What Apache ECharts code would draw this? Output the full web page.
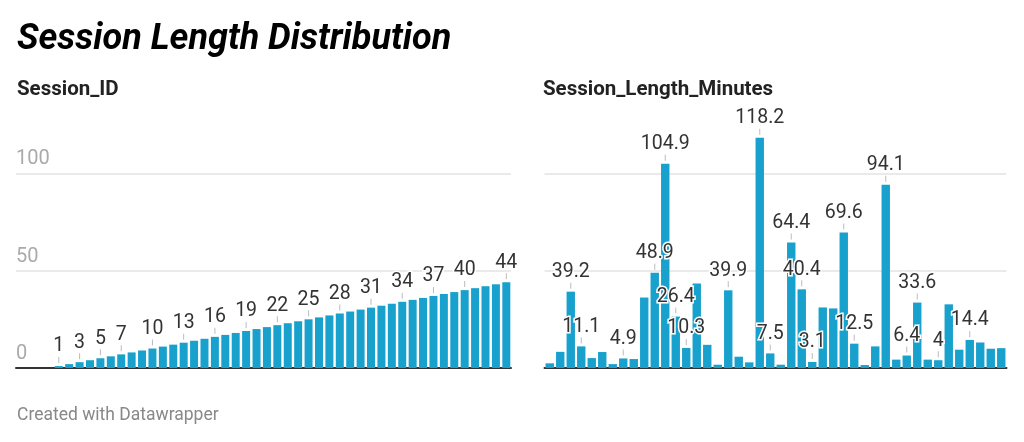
<!DOCTYPE html>
<html>
<head>
<meta charset="utf-8">
<script src="https://cdn.jsdelivr.net/npm/echarts@6/dist/echarts.min.js"></script>
<style>
  html, body { margin: 0; padding: 0; background: #fff; }
  #chart { width: 1024px; height: 442px; }
</style>
</head>
<body>
<div id="chart"></div>
<script>
// session ids (left panel) and session length in minutes (right panel)
var sessionIds = [1, 2, 3, 4, 5, 6, 7, 8, 9, 10, 11, 12, 13, 14, 15, 16, 17, 18, 19, 20, 21, 22,
  23, 24, 25, 26, 27, 28, 29, 30, 31, 32, 33, 34, 35, 36, 37, 38, 39, 40, 41, 42, 43, 44];
var sessionLengths = [2.4, 8.3, 39.2, 11.1, 5.1, 8.2, 2.0, 4.9, 4.6, 36.2, 48.9, 104.9, 26.4, 10.3,
  43.4, 11.9, 1.7, 39.9, 5.8, 2.9, 118.2, 7.5, 1.7, 64.4, 40.4, 3.1, 31.1, 30.6, 69.6, 12.5,
  1.5, 11.1, 94.1, 4.3, 6.4, 33.6, 4.3, 4, 32.7, 9.4, 14.4, 13.1, 9.9, 10.2];
// which sessions carry a value label
var labeledIds = [1, 3, 5, 7, 10, 13, 16, 19, 22, 25, 28, 31, 34, 37, 40, 44];
var labeledLengths = [3, 4, 8, 11, 12, 13, 14, 18, 21, 22, 24, 25, 26, 29, 30, 33, 35, 36, 38, 41];
var yTicks = [0, 50, 100];

var FONT = 'Roboto, "Noto Sans", sans-serif';
var BLUE = '#18a1cd';

var labelStyle = {
  position: 'top',
  distance: 3,
  formatter: function (p) {
    var v = Array.isArray(p.value) ? p.value[1] : p.value;
    return '{v|' + v + '}\n{t|}';
  },
  rich: {
    v: { fontFamily: FONT, fontSize: 19.5, color: '#333', lineHeight: 21,
         textBorderColor: '#fff', textBorderWidth: 3 },
    t: { width: 1, height: 6, lineHeight: 6, backgroundColor: '#bbb' }
  }
};

var leftData = sessionIds.map(function (id) {
  return { value: [id, id], label: { show: labeledIds.indexOf(id) > -1 } };
});
var rightData = sessionLengths.map(function (v, i) {
  return { value: v, label: { show: labeledLengths.indexOf(i + 1) > -1 } };
});

function yAxis(gridIndex, showLabels) {
  return {
    type: 'value',
    gridIndex: gridIndex,
    min: 0,
    max: yTicks[yTicks.length - 1],
    interval: 50,
    axisLine: { show: false },
    axisTick: { show: false },
    splitLine: { show: true, lineStyle: { color: '#e3e3e3', width: 1.5 } },
    axisLabel: {
      show: showLabels,
      inside: true,
      margin: 0,
      align: 'left',
      verticalAlign: 'bottom',
      padding: [0, 0, 4, 0],
      fontFamily: FONT,
      fontSize: 20,
      color: '#aaa'
    }
  };
}

var chart = echarts.init(document.getElementById('chart'));
chart.setOption({
  animation: false,
  textStyle: { fontFamily: FONT },
  title: [
    { text: 'Session Length Distribution', left: 12, top: 17,
      textStyle: { fontSize: 36, fontWeight: 'bold', fontStyle: 'italic', color: '#000' } },
    { text: 'Session_ID', left: 12, top: 74,
      textStyle: { fontSize: 20.5, fontWeight: 'bold', color: '#222' } },
    { text: 'Session_Length_Minutes', left: 538, top: 74,
      textStyle: { fontSize: 20.5, fontWeight: 'bold', color: '#222' } },
    { text: 'Created with Datawrapper', left: 12, top: 402,
      textStyle: { fontSize: 17.5, fontWeight: 'normal', color: '#888' } }
  ],
  grid: [
    { left: 16, width: 495, top: 173.3, bottom: 74 },
    { left: 544.5, width: 462, top: 173.3, bottom: 74 }
  ],
  xAxis: [
    { type: 'value', gridIndex: 0, min: -3.11, max: 44.45,
      axisLine: { show: true, onZero: true, lineStyle: { color: '#333', width: 2 } },
      axisTick: { show: false }, axisLabel: { show: false }, splitLine: { show: false } },
    { type: 'category', gridIndex: 1, data: sessionIds,
      axisLine: { show: true, lineStyle: { color: '#333', width: 2 } },
      axisTick: { show: false }, axisLabel: { show: false } }
  ],
  yAxis: [yAxis(0, true), yAxis(1, false)],
  series: [
    { type: 'bar', name: 'Session_ID', xAxisIndex: 0, yAxisIndex: 0,
      barWidth: 8, clip: false, data: leftData,
      itemStyle: { color: BLUE }, label: labelStyle },
    { type: 'bar', name: 'Session_Length_Minutes', xAxisIndex: 1, yAxisIndex: 1,
      barCategoryGap: '20%', clip: false, data: rightData,
      itemStyle: { color: BLUE }, label: labelStyle }
  ]
});
</script>
</body>
</html>
